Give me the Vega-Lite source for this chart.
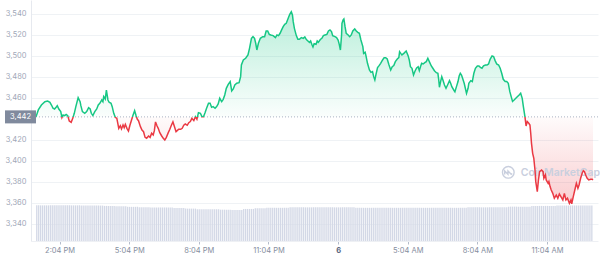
{
 "$schema": "https://vega.github.io/schema/vega-lite/v6.json",
 "width": 567,
 "height": 241,
 "autosize": {"type": "none"},
 "padding": {"left": 31, "top": 0, "right": 2, "bottom": 17},
 "config": {"view": {"stroke": null}, "font": "Inter"},
 "datasets": {
  "open": [{"ref": 3442}],
  "volume": [
{"t":"2022-04-05T13:05","v":17.0},{"t":"2022-04-05T13:10","v":17.0},{"t":"2022-04-05T13:15","v":17.0},{"t":"2022-04-05T13:20","v":17.0},{"t":"2022-04-05T13:25","v":17.0},{"t":"2022-04-05T13:30","v":17.0},{"t":"2022-04-05T13:35","v":17.0},{"t":"2022-04-05T13:40","v":17.0},{"t":"2022-04-05T13:45","v":17.0},{"t":"2022-04-05T13:50","v":17.0},{"t":"2022-04-05T13:55","v":17.0},
{"t":"2022-04-05T14:00","v":17.0},{"t":"2022-04-05T14:05","v":17.0},{"t":"2022-04-05T14:10","v":17.0},{"t":"2022-04-05T14:15","v":17.0},{"t":"2022-04-05T14:20","v":17.0},{"t":"2022-04-05T14:25","v":17.0},{"t":"2022-04-05T14:30","v":17.0},{"t":"2022-04-05T14:35","v":17.0},{"t":"2022-04-05T14:40","v":17.0},{"t":"2022-04-05T14:45","v":17.0},{"t":"2022-04-05T14:50","v":17.0},{"t":"2022-04-05T14:55","v":17.0},
{"t":"2022-04-05T15:00","v":16.9},{"t":"2022-04-05T15:05","v":16.9},{"t":"2022-04-05T15:10","v":16.9},{"t":"2022-04-05T15:15","v":16.9},{"t":"2022-04-05T15:20","v":16.9},{"t":"2022-04-05T15:25","v":16.9},{"t":"2022-04-05T15:30","v":16.9},{"t":"2022-04-05T15:35","v":16.9},{"t":"2022-04-05T15:40","v":16.9},{"t":"2022-04-05T15:45","v":16.9},{"t":"2022-04-05T15:50","v":16.9},{"t":"2022-04-05T15:55","v":16.9},
{"t":"2022-04-05T16:00","v":16.75},{"t":"2022-04-05T16:05","v":16.75},{"t":"2022-04-05T16:10","v":16.75},{"t":"2022-04-05T16:15","v":16.75},{"t":"2022-04-05T16:20","v":16.75},{"t":"2022-04-05T16:25","v":16.75},{"t":"2022-04-05T16:30","v":16.55},{"t":"2022-04-05T16:35","v":16.55},{"t":"2022-04-05T16:40","v":16.55},{"t":"2022-04-05T16:45","v":16.55},{"t":"2022-04-05T16:50","v":16.55},{"t":"2022-04-05T16:55","v":16.55},
{"t":"2022-04-05T17:00","v":16.3},{"t":"2022-04-05T17:05","v":16.3},{"t":"2022-04-05T17:10","v":16.3},{"t":"2022-04-05T17:15","v":16.3},{"t":"2022-04-05T17:20","v":16.3},{"t":"2022-04-05T17:25","v":16.3},{"t":"2022-04-05T17:30","v":16.15},{"t":"2022-04-05T17:35","v":16.15},{"t":"2022-04-05T17:40","v":16.15},{"t":"2022-04-05T17:45","v":16.15},{"t":"2022-04-05T17:50","v":16.15},{"t":"2022-04-05T17:55","v":16.15},
{"t":"2022-04-05T18:00","v":16.0},{"t":"2022-04-05T18:05","v":16.0},{"t":"2022-04-05T18:10","v":16.0},{"t":"2022-04-05T18:15","v":16.0},{"t":"2022-04-05T18:20","v":16.0},{"t":"2022-04-05T18:25","v":16.0},{"t":"2022-04-05T18:30","v":16.0},{"t":"2022-04-05T18:35","v":16.0},{"t":"2022-04-05T18:40","v":16.0},{"t":"2022-04-05T18:45","v":16.0},{"t":"2022-04-05T18:50","v":16.0},{"t":"2022-04-05T18:55","v":16.0},
{"t":"2022-04-05T19:00","v":15.75},{"t":"2022-04-05T19:05","v":15.75},{"t":"2022-04-05T19:10","v":15.75},{"t":"2022-04-05T19:15","v":15.75},{"t":"2022-04-05T19:20","v":15.75},{"t":"2022-04-05T19:25","v":15.75},{"t":"2022-04-05T19:30","v":15.45},{"t":"2022-04-05T19:35","v":15.45},{"t":"2022-04-05T19:40","v":15.45},{"t":"2022-04-05T19:45","v":15.45},{"t":"2022-04-05T19:50","v":15.45},{"t":"2022-04-05T19:55","v":15.45},
{"t":"2022-04-05T20:00","v":15.15},{"t":"2022-04-05T20:05","v":15.15},{"t":"2022-04-05T20:10","v":15.15},{"t":"2022-04-05T20:15","v":15.15},{"t":"2022-04-05T20:20","v":15.15},{"t":"2022-04-05T20:25","v":15.15},{"t":"2022-04-05T20:30","v":15.15},{"t":"2022-04-05T20:35","v":15.15},{"t":"2022-04-05T20:40","v":15.15},{"t":"2022-04-05T20:45","v":15.15},{"t":"2022-04-05T20:50","v":15.15},{"t":"2022-04-05T20:55","v":15.15},
{"t":"2022-04-05T21:00","v":14.95},{"t":"2022-04-05T21:05","v":14.95},{"t":"2022-04-05T21:10","v":14.95},{"t":"2022-04-05T21:15","v":14.95},{"t":"2022-04-05T21:20","v":14.95},{"t":"2022-04-05T21:25","v":14.95},{"t":"2022-04-05T21:30","v":14.85},{"t":"2022-04-05T21:35","v":14.85},{"t":"2022-04-05T21:40","v":14.85},{"t":"2022-04-05T21:45","v":14.85},{"t":"2022-04-05T21:50","v":14.85},{"t":"2022-04-05T21:55","v":14.85},
{"t":"2022-04-05T22:00","v":15.3},{"t":"2022-04-05T22:05","v":15.3},{"t":"2022-04-05T22:10","v":15.3},{"t":"2022-04-05T22:15","v":15.3},{"t":"2022-04-05T22:20","v":15.3},{"t":"2022-04-05T22:25","v":15.3},{"t":"2022-04-05T22:30","v":15.65},{"t":"2022-04-05T22:35","v":15.65},{"t":"2022-04-05T22:40","v":15.65},{"t":"2022-04-05T22:45","v":15.65},{"t":"2022-04-05T22:50","v":15.65},{"t":"2022-04-05T22:55","v":15.65},
{"t":"2022-04-05T23:00","v":15.85},{"t":"2022-04-05T23:05","v":15.85},{"t":"2022-04-05T23:10","v":15.85},{"t":"2022-04-05T23:15","v":15.85},{"t":"2022-04-05T23:20","v":15.85},{"t":"2022-04-05T23:25","v":15.85},{"t":"2022-04-05T23:30","v":15.85},{"t":"2022-04-05T23:35","v":15.85},{"t":"2022-04-05T23:40","v":15.85},{"t":"2022-04-05T23:45","v":15.85},{"t":"2022-04-05T23:50","v":15.85},{"t":"2022-04-05T23:55","v":15.85},
{"t":"2022-04-06T00:00","v":16.05},{"t":"2022-04-06T00:05","v":16.05},{"t":"2022-04-06T00:10","v":16.05},{"t":"2022-04-06T00:15","v":16.05},{"t":"2022-04-06T00:20","v":16.05},{"t":"2022-04-06T00:25","v":16.05},{"t":"2022-04-06T00:30","v":16.05},{"t":"2022-04-06T00:35","v":16.05},{"t":"2022-04-06T00:40","v":16.05},{"t":"2022-04-06T00:45","v":16.05},{"t":"2022-04-06T00:50","v":16.05},{"t":"2022-04-06T00:55","v":16.05},
{"t":"2022-04-06T01:00","v":16.05},{"t":"2022-04-06T01:05","v":16.05},{"t":"2022-04-06T01:10","v":16.05},{"t":"2022-04-06T01:15","v":16.05},{"t":"2022-04-06T01:20","v":16.05},{"t":"2022-04-06T01:25","v":16.05},{"t":"2022-04-06T01:30","v":16.05},{"t":"2022-04-06T01:35","v":16.05},{"t":"2022-04-06T01:40","v":16.05},{"t":"2022-04-06T01:45","v":16.05},{"t":"2022-04-06T01:50","v":16.05},{"t":"2022-04-06T01:55","v":16.05},
{"t":"2022-04-06T02:00","v":16.05},{"t":"2022-04-06T02:05","v":16.05},{"t":"2022-04-06T02:10","v":16.05},{"t":"2022-04-06T02:15","v":16.05},{"t":"2022-04-06T02:20","v":16.05},{"t":"2022-04-06T02:25","v":16.05},{"t":"2022-04-06T02:30","v":16.05},{"t":"2022-04-06T02:35","v":16.05},{"t":"2022-04-06T02:40","v":16.05},{"t":"2022-04-06T02:45","v":16.05},{"t":"2022-04-06T02:50","v":15.85},{"t":"2022-04-06T02:55","v":15.85},
{"t":"2022-04-06T03:00","v":15.85},{"t":"2022-04-06T03:05","v":15.85},{"t":"2022-04-06T03:10","v":15.85},{"t":"2022-04-06T03:15","v":15.85},{"t":"2022-04-06T03:20","v":15.85},{"t":"2022-04-06T03:25","v":15.85},{"t":"2022-04-06T03:30","v":15.85},{"t":"2022-04-06T03:35","v":15.85},{"t":"2022-04-06T03:40","v":15.85},{"t":"2022-04-06T03:45","v":15.85},{"t":"2022-04-06T03:50","v":15.85},{"t":"2022-04-06T03:55","v":15.85},
{"t":"2022-04-06T04:00","v":15.85},{"t":"2022-04-06T04:05","v":15.85},{"t":"2022-04-06T04:10","v":15.85},{"t":"2022-04-06T04:15","v":15.85},{"t":"2022-04-06T04:20","v":15.85},{"t":"2022-04-06T04:25","v":15.85},{"t":"2022-04-06T04:30","v":15.85},{"t":"2022-04-06T04:35","v":15.85},{"t":"2022-04-06T04:40","v":15.85},{"t":"2022-04-06T04:45","v":15.85},{"t":"2022-04-06T04:50","v":15.85},{"t":"2022-04-06T04:55","v":15.85},
{"t":"2022-04-06T05:00","v":15.85},{"t":"2022-04-06T05:05","v":15.85},{"t":"2022-04-06T05:10","v":15.85},{"t":"2022-04-06T05:15","v":15.85},{"t":"2022-04-06T05:20","v":15.85},{"t":"2022-04-06T05:25","v":15.85},{"t":"2022-04-06T05:30","v":15.85},{"t":"2022-04-06T05:35","v":15.85},{"t":"2022-04-06T05:40","v":15.85},{"t":"2022-04-06T05:45","v":15.85},{"t":"2022-04-06T05:50","v":15.85},{"t":"2022-04-06T05:55","v":15.85},
{"t":"2022-04-06T06:00","v":15.85},{"t":"2022-04-06T06:05","v":15.85},{"t":"2022-04-06T06:10","v":15.85},{"t":"2022-04-06T06:15","v":15.85},{"t":"2022-04-06T06:20","v":15.85},{"t":"2022-04-06T06:25","v":15.85},{"t":"2022-04-06T06:30","v":15.85},{"t":"2022-04-06T06:35","v":15.85},{"t":"2022-04-06T06:40","v":15.85},{"t":"2022-04-06T06:45","v":15.85},{"t":"2022-04-06T06:50","v":15.85},{"t":"2022-04-06T06:55","v":15.85},
{"t":"2022-04-06T07:00","v":15.85},{"t":"2022-04-06T07:05","v":15.85},{"t":"2022-04-06T07:10","v":15.85},{"t":"2022-04-06T07:15","v":15.85},{"t":"2022-04-06T07:20","v":15.85},{"t":"2022-04-06T07:25","v":15.85},{"t":"2022-04-06T07:30","v":15.85},{"t":"2022-04-06T07:35","v":15.85},{"t":"2022-04-06T07:40","v":16.05},{"t":"2022-04-06T07:45","v":16.05},{"t":"2022-04-06T07:50","v":16.05},{"t":"2022-04-06T07:55","v":16.05},
{"t":"2022-04-06T08:00","v":16.05},{"t":"2022-04-06T08:05","v":16.05},{"t":"2022-04-06T08:10","v":16.05},{"t":"2022-04-06T08:15","v":16.05},{"t":"2022-04-06T08:20","v":16.05},{"t":"2022-04-06T08:25","v":16.05},{"t":"2022-04-06T08:30","v":16.05},{"t":"2022-04-06T08:35","v":16.05},{"t":"2022-04-06T08:40","v":16.05},{"t":"2022-04-06T08:45","v":16.05},{"t":"2022-04-06T08:50","v":16.05},{"t":"2022-04-06T08:55","v":16.05},
{"t":"2022-04-06T09:00","v":16.05},{"t":"2022-04-06T09:05","v":16.05},{"t":"2022-04-06T09:10","v":16.05},{"t":"2022-04-06T09:15","v":16.05},{"t":"2022-04-06T09:20","v":16.05},{"t":"2022-04-06T09:25","v":16.4},{"t":"2022-04-06T09:30","v":16.4},{"t":"2022-04-06T09:35","v":16.4},{"t":"2022-04-06T09:40","v":16.4},{"t":"2022-04-06T09:45","v":16.4},{"t":"2022-04-06T09:50","v":16.4},{"t":"2022-04-06T09:55","v":16.4},
{"t":"2022-04-06T10:00","v":16.4},{"t":"2022-04-06T10:05","v":16.4},{"t":"2022-04-06T10:10","v":16.4},{"t":"2022-04-06T10:15","v":16.4},{"t":"2022-04-06T10:20","v":16.4},{"t":"2022-04-06T10:25","v":16.75},{"t":"2022-04-06T10:30","v":16.75},{"t":"2022-04-06T10:35","v":16.75},{"t":"2022-04-06T10:40","v":16.75},{"t":"2022-04-06T10:45","v":16.75},{"t":"2022-04-06T10:50","v":16.75},{"t":"2022-04-06T10:55","v":16.75},
{"t":"2022-04-06T11:00","v":16.75},{"t":"2022-04-06T11:05","v":16.75},{"t":"2022-04-06T11:10","v":16.75},{"t":"2022-04-06T11:15","v":16.75},{"t":"2022-04-06T11:20","v":16.75},{"t":"2022-04-06T11:25","v":16.75},{"t":"2022-04-06T11:30","v":16.95},{"t":"2022-04-06T11:35","v":16.95},{"t":"2022-04-06T11:40","v":16.95},{"t":"2022-04-06T11:45","v":16.95},{"t":"2022-04-06T11:50","v":16.95},{"t":"2022-04-06T11:55","v":16.95},
{"t":"2022-04-06T12:00","v":16.95},{"t":"2022-04-06T12:05","v":16.95},{"t":"2022-04-06T12:10","v":16.95},{"t":"2022-04-06T12:15","v":16.95},{"t":"2022-04-06T12:20","v":16.95},{"t":"2022-04-06T12:25","v":16.95},{"t":"2022-04-06T12:30","v":16.95},{"t":"2022-04-06T12:35","v":16.95},{"t":"2022-04-06T12:40","v":16.95},{"t":"2022-04-06T12:45","v":16.95},{"t":"2022-04-06T12:50","v":16.95},{"t":"2022-04-06T12:55","v":16.95},
{"t":"2022-04-06T13:00","v":16.95}
  ],
  "price": [
{"t":"2022-04-05T13:03","p":3442.0},{"t":"2022-04-05T13:09","p":3448.6},{"t":"2022-04-05T13:17","p":3453.3},{"t":"2022-04-05T13:26","p":3456.5},{"t":"2022-04-05T13:33","p":3457.1},{"t":"2022-04-05T13:39","p":3455.9},{"t":"2022-04-05T13:43","p":3453.3},{"t":"2022-04-05T13:47","p":3450.2},{"t":"2022-04-05T13:51","p":3449.5},{"t":"2022-04-05T13:56","p":3451.7},{"t":"2022-04-05T13:58","p":3452.7},
{"t":"2022-04-05T14:02","p":3449.5},{"t":"2022-04-05T14:07","p":3447.0},{"t":"2022-04-05T14:10","p":3441.3},{"t":"2022-04-05T14:13","p":3443.8},{"t":"2022-04-05T14:17","p":3443.2},{"t":"2022-04-05T14:21","p":3444.4},{"t":"2022-04-05T14:25","p":3443.2},{"t":"2022-04-05T14:29","p":3438.1},{"t":"2022-04-05T14:34","p":3436.8},{"t":"2022-04-05T14:38","p":3440.6},{"t":"2022-04-05T14:42","p":3445.4},{"t":"2022-04-05T14:46","p":3451.7},{"t":"2022-04-05T14:52","p":3460.3},{"t":"2022-04-05T14:57","p":3456.5},{"t":"2022-04-05T14:59","p":3452.7},
{"t":"2022-04-05T15:03","p":3447.0},{"t":"2022-04-05T15:09","p":3445.4},{"t":"2022-04-05T15:14","p":3447.0},{"t":"2022-04-05T15:19","p":3450.8},{"t":"2022-04-05T15:23","p":3449.5},{"t":"2022-04-05T15:26","p":3445.4},{"t":"2022-04-05T15:30","p":3443.2},{"t":"2022-04-05T15:35","p":3447.0},{"t":"2022-04-05T15:40","p":3449.5},{"t":"2022-04-05T15:44","p":3453.3},{"t":"2022-04-05T15:48","p":3454.9},{"t":"2022-04-05T15:53","p":3458.1},{"t":"2022-04-05T15:56","p":3456.5},{"t":"2022-04-05T15:58","p":3461.3},
{"t":"2022-04-05T16:02","p":3459.0},{"t":"2022-04-05T16:05","p":3467.6},{"t":"2022-04-05T16:09","p":3458.1},{"t":"2022-04-05T16:12","p":3455.9},{"t":"2022-04-05T16:17","p":3454.9},{"t":"2022-04-05T16:20","p":3451.7},{"t":"2022-04-05T16:24","p":3445.4},{"t":"2022-04-05T16:28","p":3441.6},{"t":"2022-04-05T16:32","p":3440.6},{"t":"2022-04-05T16:37","p":3431.1},{"t":"2022-04-05T16:41","p":3433.6},{"t":"2022-04-05T16:44","p":3430.5},{"t":"2022-04-05T16:48","p":3434.3},{"t":"2022-04-05T16:51","p":3431.7},{"t":"2022-04-05T16:54","p":3434.9},{"t":"2022-04-05T16:58","p":3431.1},
{"t":"2022-04-05T17:02","p":3428.6},{"t":"2022-04-05T17:06","p":3434.3},{"t":"2022-04-05T17:10","p":3439.0},{"t":"2022-04-05T17:14","p":3443.8},{"t":"2022-04-05T17:18","p":3447.9},{"t":"2022-04-05T17:22","p":3442.9},{"t":"2022-04-05T17:25","p":3439.7},{"t":"2022-04-05T17:28","p":3438.4},{"t":"2022-04-05T17:33","p":3432.7},{"t":"2022-04-05T17:37","p":3429.5},{"t":"2022-04-05T17:41","p":3427.9},{"t":"2022-04-05T17:45","p":3422.5},{"t":"2022-04-05T17:49","p":3421.6},{"t":"2022-04-05T17:54","p":3423.8},{"t":"2022-04-05T17:58","p":3422.5},
{"t":"2022-04-05T18:02","p":3426.4},{"t":"2022-04-05T18:06","p":3424.8},{"t":"2022-04-05T18:09","p":3428.9},{"t":"2022-04-05T18:12","p":3437.2},{"t":"2022-04-05T18:16","p":3433.3},{"t":"2022-04-05T18:19","p":3431.1},{"t":"2022-04-05T18:23","p":3427.0},{"t":"2022-04-05T18:28","p":3423.8},{"t":"2022-04-05T18:32","p":3421.6},{"t":"2022-04-05T18:36","p":3420.0},{"t":"2022-04-05T18:40","p":3422.5},{"t":"2022-04-05T18:45","p":3427.0},{"t":"2022-04-05T18:49","p":3430.2},{"t":"2022-04-05T18:53","p":3434.0},{"t":"2022-04-05T18:57","p":3437.2},
{"t":"2022-04-05T19:01","p":3432.7},{"t":"2022-04-05T19:05","p":3427.9},{"t":"2022-04-05T19:08","p":3428.9},{"t":"2022-04-05T19:12","p":3430.2},{"t":"2022-04-05T19:17","p":3430.2},{"t":"2022-04-05T19:21","p":3431.1},{"t":"2022-04-05T19:25","p":3434.0},{"t":"2022-04-05T19:29","p":3435.2},{"t":"2022-04-05T19:34","p":3434.0},{"t":"2022-04-05T19:38","p":3436.5},{"t":"2022-04-05T19:42","p":3437.5},{"t":"2022-04-05T19:46","p":3440.6},{"t":"2022-04-05T19:51","p":3438.4},{"t":"2022-04-05T19:55","p":3442.2},{"t":"2022-04-05T19:59","p":3439.7},
{"t":"2022-04-05T20:03","p":3446.0},{"t":"2022-04-05T20:08","p":3445.4},{"t":"2022-04-05T20:12","p":3442.2},{"t":"2022-04-05T20:16","p":3442.2},{"t":"2022-04-05T20:20","p":3446.0},{"t":"2022-04-05T20:24","p":3450.2},{"t":"2022-04-05T20:29","p":3454.9},{"t":"2022-04-05T20:33","p":3454.9},{"t":"2022-04-05T20:37","p":3451.1},{"t":"2022-04-05T20:41","p":3451.8},{"t":"2022-04-05T20:46","p":3450.2},{"t":"2022-04-05T20:50","p":3451.8},{"t":"2022-04-05T20:54","p":3454.3},{"t":"2022-04-05T20:58","p":3459.7},
{"t":"2022-04-05T21:03","p":3456.5},{"t":"2022-04-05T21:07","p":3458.7},{"t":"2022-04-05T21:11","p":3462.9},{"t":"2022-04-05T21:15","p":3469.2},{"t":"2022-04-05T21:20","p":3473.0},{"t":"2022-04-05T21:25","p":3475.6},{"t":"2022-04-05T21:29","p":3466.7},{"t":"2022-04-05T21:33","p":3468.6},{"t":"2022-04-05T21:37","p":3472.4},{"t":"2022-04-05T21:42","p":3474.0},{"t":"2022-04-05T21:48","p":3474.6},{"t":"2022-04-05T21:52","p":3480.3},{"t":"2022-04-05T21:54","p":3491.4},{"t":"2022-04-05T21:59","p":3496.2},
{"t":"2022-04-05T22:05","p":3497.8},{"t":"2022-04-05T22:11","p":3501.0},{"t":"2022-04-05T22:15","p":3507.3},{"t":"2022-04-05T22:20","p":3516.8},{"t":"2022-04-05T22:24","p":3518.4},{"t":"2022-04-05T22:28","p":3516.8},{"t":"2022-04-05T22:31","p":3512.1},{"t":"2022-04-05T22:34","p":3505.7},{"t":"2022-04-05T22:38","p":3512.1},{"t":"2022-04-05T22:43","p":3516.8},{"t":"2022-04-05T22:49","p":3518.4},{"t":"2022-04-05T22:54","p":3518.4},{"t":"2022-04-05T22:58","p":3523.8},
{"t":"2022-04-05T23:02","p":3523.8},{"t":"2022-04-05T23:06","p":3520.6},{"t":"2022-04-05T23:10","p":3520.0},{"t":"2022-04-05T23:16","p":3519.4},{"t":"2022-04-05T23:22","p":3517.5},{"t":"2022-04-05T23:26","p":3520.0},{"t":"2022-04-05T23:30","p":3519.4},{"t":"2022-04-05T23:34","p":3521.6},{"t":"2022-04-05T23:38","p":3524.8},{"t":"2022-04-05T23:42","p":3528.0},{"t":"2022-04-05T23:46","p":3530.2},{"t":"2022-04-05T23:50","p":3531.1},{"t":"2022-04-05T23:55","p":3535.9},{"t":"2022-04-05T23:59","p":3539.7},
{"t":"2022-04-06T00:03","p":3542.2},{"t":"2022-04-06T00:06","p":3539.0},{"t":"2022-04-06T00:08","p":3532.7},{"t":"2022-04-06T00:11","p":3526.3},{"t":"2022-04-06T00:16","p":3519.4},{"t":"2022-04-06T00:20","p":3515.9},{"t":"2022-04-06T00:24","p":3515.9},{"t":"2022-04-06T00:29","p":3517.5},{"t":"2022-04-06T00:34","p":3516.8},{"t":"2022-04-06T00:38","p":3518.1},{"t":"2022-04-06T00:42","p":3515.6},{"t":"2022-04-06T00:46","p":3514.3},{"t":"2022-04-06T00:50","p":3513.0},{"t":"2022-04-06T00:53","p":3514.3},{"t":"2022-04-06T00:56","p":3511.1},{"t":"2022-04-06T00:59","p":3508.6},
{"t":"2022-04-06T01:02","p":3511.7},{"t":"2022-04-06T01:07","p":3511.1},{"t":"2022-04-06T01:10","p":3514.3},{"t":"2022-04-06T01:13","p":3513.0},{"t":"2022-04-06T01:18","p":3515.7},{"t":"2022-04-06T01:22","p":3516.8},{"t":"2022-04-06T01:26","p":3519.4},{"t":"2022-04-06T01:30","p":3520.0},{"t":"2022-04-06T01:35","p":3520.6},{"t":"2022-04-06T01:39","p":3523.8},{"t":"2022-04-06T01:43","p":3524.8},{"t":"2022-04-06T01:47","p":3523.2},{"t":"2022-04-06T01:50","p":3519.4},{"t":"2022-04-06T01:56","p":3518.4},
{"t":"2022-04-06T02:00","p":3517.5},{"t":"2022-04-06T02:04","p":3515.2},{"t":"2022-04-06T02:07","p":3511.1},{"t":"2022-04-06T02:10","p":3505.7},{"t":"2022-04-06T02:13","p":3520.0},{"t":"2022-04-06T02:14","p":3531.1},{"t":"2022-04-06T02:17","p":3534.3},{"t":"2022-04-06T02:19","p":3535.2},{"t":"2022-04-06T02:22","p":3527.9},{"t":"2022-04-06T02:25","p":3521.6},{"t":"2022-04-06T02:30","p":3520.0},{"t":"2022-04-06T02:34","p":3518.4},{"t":"2022-04-06T02:38","p":3520.0},{"t":"2022-04-06T02:42","p":3523.8},{"t":"2022-04-06T02:47","p":3525.7},{"t":"2022-04-06T02:51","p":3523.8},{"t":"2022-04-06T02:55","p":3522.5},{"t":"2022-04-06T02:59","p":3521.6},
{"t":"2022-04-06T03:03","p":3515.2},{"t":"2022-04-06T03:08","p":3508.9},{"t":"2022-04-06T03:10","p":3502.5},{"t":"2022-04-06T03:14","p":3503.5},{"t":"2022-04-06T03:16","p":3500.3},{"t":"2022-04-06T03:20","p":3493.0},{"t":"2022-04-06T03:25","p":3486.7},{"t":"2022-04-06T03:29","p":3484.4},{"t":"2022-04-06T03:33","p":3485.1},{"t":"2022-04-06T03:36","p":3480.3},{"t":"2022-04-06T03:39","p":3477.1},{"t":"2022-04-06T03:42","p":3482.5},{"t":"2022-04-06T03:46","p":3488.9},{"t":"2022-04-06T03:50","p":3490.8},{"t":"2022-04-06T03:54","p":3493.0},{"t":"2022-04-06T03:59","p":3496.2},
{"t":"2022-04-06T04:03","p":3498.4},{"t":"2022-04-06T04:07","p":3498.4},{"t":"2022-04-06T04:11","p":3497.1},{"t":"2022-04-06T04:15","p":3492.1},{"t":"2022-04-06T04:20","p":3486.7},{"t":"2022-04-06T04:24","p":3489.8},{"t":"2022-04-06T04:28","p":3490.8},{"t":"2022-04-06T04:32","p":3494.6},{"t":"2022-04-06T04:37","p":3497.1},{"t":"2022-04-06T04:41","p":3498.4},{"t":"2022-04-06T04:43","p":3504.1},{"t":"2022-04-06T04:46","p":3502.5},{"t":"2022-04-06T04:49","p":3501.0},{"t":"2022-04-06T04:54","p":3502.5},{"t":"2022-04-06T04:58","p":3504.1},
{"t":"2022-04-06T05:00","p":3504.8},{"t":"2022-04-06T05:05","p":3500.3},{"t":"2022-04-06T05:08","p":3496.2},{"t":"2022-04-06T05:11","p":3489.8},{"t":"2022-04-06T05:15","p":3488.3},{"t":"2022-04-06T05:19","p":3481.9},{"t":"2022-04-06T05:23","p":3485.7},{"t":"2022-04-06T05:27","p":3488.6},{"t":"2022-04-06T05:31","p":3489.8},{"t":"2022-04-06T05:34","p":3486.0},{"t":"2022-04-06T05:37","p":3489.8},{"t":"2022-04-06T05:40","p":3493.0},{"t":"2022-04-06T05:44","p":3492.4},{"t":"2022-04-06T05:48","p":3493.7},{"t":"2022-04-06T05:52","p":3494.6},{"t":"2022-04-06T05:56","p":3497.8},
{"t":"2022-04-06T06:01","p":3493.7},{"t":"2022-04-06T06:05","p":3490.5},{"t":"2022-04-06T06:09","p":3488.3},{"t":"2022-04-06T06:13","p":3486.0},{"t":"2022-04-06T06:18","p":3484.1},{"t":"2022-04-06T06:22","p":3483.5},{"t":"2022-04-06T06:24","p":3477.8},{"t":"2022-04-06T06:26","p":3470.2},{"t":"2022-04-06T06:29","p":3475.6},{"t":"2022-04-06T06:32","p":3480.3},{"t":"2022-04-06T06:35","p":3477.1},{"t":"2022-04-06T06:39","p":3472.4},{"t":"2022-04-06T06:43","p":3469.2},{"t":"2022-04-06T06:47","p":3472.4},{"t":"2022-04-06T06:52","p":3476.5},{"t":"2022-04-06T06:55","p":3474.0},{"t":"2022-04-06T06:58","p":3470.8},
{"t":"2022-04-06T07:03","p":3467.6},{"t":"2022-04-06T07:06","p":3466.0},{"t":"2022-04-06T07:10","p":3470.8},{"t":"2022-04-06T07:14","p":3475.6},{"t":"2022-04-06T07:17","p":3480.9},{"t":"2022-04-06T07:20","p":3483.5},{"t":"2022-04-06T07:23","p":3481.9},{"t":"2022-04-06T07:25","p":3479.7},{"t":"2022-04-06T07:30","p":3474.0},{"t":"2022-04-06T07:34","p":3467.6},{"t":"2022-04-06T07:36","p":3464.4},{"t":"2022-04-06T07:40","p":3469.2},{"t":"2022-04-06T07:42","p":3474.0},{"t":"2022-04-06T07:47","p":3476.5},{"t":"2022-04-06T07:51","p":3475.6},{"t":"2022-04-06T07:55","p":3483.5},{"t":"2022-04-06T07:59","p":3488.3},
{"t":"2022-04-06T08:04","p":3490.5},{"t":"2022-04-06T08:08","p":3490.5},{"t":"2022-04-06T08:12","p":3489.2},{"t":"2022-04-06T08:16","p":3488.3},{"t":"2022-04-06T08:20","p":3490.5},{"t":"2022-04-06T08:25","p":3491.4},{"t":"2022-04-06T08:29","p":3491.4},{"t":"2022-04-06T08:33","p":3492.4},{"t":"2022-04-06T08:37","p":3496.8},{"t":"2022-04-06T08:42","p":3500.0},{"t":"2022-04-06T08:46","p":3499.4},{"t":"2022-04-06T08:50","p":3495.6},{"t":"2022-04-06T08:54","p":3492.4},{"t":"2022-04-06T08:59","p":3491.4},
{"t":"2022-04-06T09:03","p":3488.3},{"t":"2022-04-06T09:07","p":3483.5},{"t":"2022-04-06T09:11","p":3477.8},{"t":"2022-04-06T09:16","p":3475.6},{"t":"2022-04-06T09:20","p":3475.6},{"t":"2022-04-06T09:24","p":3474.0},{"t":"2022-04-06T09:28","p":3466.0},{"t":"2022-04-06T09:32","p":3460.6},{"t":"2022-04-06T09:35","p":3456.8},{"t":"2022-04-06T09:39","p":3458.1},{"t":"2022-04-06T09:46","p":3460.7},{"t":"2022-04-06T09:52","p":3462.9},{"t":"2022-04-06T09:56","p":3464.5},
{"t":"2022-04-06T10:00","p":3459.7},{"t":"2022-04-06T10:03","p":3451.7},{"t":"2022-04-06T10:07","p":3442.2},{"t":"2022-04-06T10:10","p":3433.3},{"t":"2022-04-06T10:13","p":3437.5},{"t":"2022-04-06T10:17","p":3435.9},{"t":"2022-04-06T10:20","p":3434.3},{"t":"2022-04-06T10:22","p":3426.4},{"t":"2022-04-06T10:24","p":3416.8},{"t":"2022-04-06T10:27","p":3407.3},{"t":"2022-04-06T10:30","p":3402.5},{"t":"2022-04-06T10:33","p":3391.4},{"t":"2022-04-06T10:35","p":3380.3},{"t":"2022-04-06T10:39","p":3370.8},{"t":"2022-04-06T10:42","p":3381.9},{"t":"2022-04-06T10:45","p":3389.8},{"t":"2022-04-06T10:50","p":3391.4},{"t":"2022-04-06T10:54","p":3389.8},{"t":"2022-04-06T10:56","p":3383.5},
{"t":"2022-04-06T11:00","p":3386.7},{"t":"2022-04-06T11:02","p":3381.9},{"t":"2022-04-06T11:07","p":3378.7},{"t":"2022-04-06T11:09","p":3380.3},{"t":"2022-04-06T11:12","p":3375.6},{"t":"2022-04-06T11:15","p":3372.4},{"t":"2022-04-06T11:19","p":3369.2},{"t":"2022-04-06T11:23","p":3364.5},{"t":"2022-04-06T11:28","p":3367.6},{"t":"2022-04-06T11:32","p":3364.5},{"t":"2022-04-06T11:36","p":3368.6},{"t":"2022-04-06T11:40","p":3366.0},{"t":"2022-04-06T11:45","p":3362.9},{"t":"2022-04-06T11:49","p":3369.2},{"t":"2022-04-06T11:53","p":3362.9},{"t":"2022-04-06T11:57","p":3364.5},
{"t":"2022-04-06T12:02","p":3359.7},{"t":"2022-04-06T12:06","p":3362.9},{"t":"2022-04-06T12:08","p":3359.1},{"t":"2022-04-06T12:12","p":3366.0},{"t":"2022-04-06T12:16","p":3372.4},{"t":"2022-04-06T12:20","p":3378.7},{"t":"2022-04-06T12:24","p":3374.0},{"t":"2022-04-06T12:27","p":3377.1},{"t":"2022-04-06T12:31","p":3383.5},{"t":"2022-04-06T12:35","p":3388.3},{"t":"2022-04-06T12:38","p":3390.8},{"t":"2022-04-06T12:41","p":3389.8},{"t":"2022-04-06T12:44","p":3386.7},{"t":"2022-04-06T12:48","p":3383.5},{"t":"2022-04-06T12:52","p":3381.9},{"t":"2022-04-06T12:57","p":3382.5},
{"t":"2022-04-06T13:01","p":3382.5},{"t":"2022-04-06T13:03","p":3381.9}
  ]
 },
 "layer": [
  {
   "data": {"name": "volume"},
   "mark": {"type": "bar", "width": 1.3, "color": "#d3d8e6"},
   "encoding": {
    "x": {
     "field": "t", "type": "temporal",
     "scale": {"domain": [{"year": 2022, "month": 4, "date": 5, "hours": 13, "minutes": 3}, {"year": 2022, "month": 4, "date": 6, "hours": 13, "minutes": 3}]},
     "axis": {
      "title": null,
      "tickCount": 30,
      "values": [
       {"year": 2022, "month": 4, "date": 5, "hours": 14, "minutes": 4},
       {"year": 2022, "month": 4, "date": 5, "hours": 17, "minutes": 4},
       {"year": 2022, "month": 4, "date": 5, "hours": 20, "minutes": 4},
       {"year": 2022, "month": 4, "date": 5, "hours": 23, "minutes": 4},
       {"year": 2022, "month": 4, "date": 6, "hours": 2, "minutes": 4},
       {"year": 2022, "month": 4, "date": 6, "hours": 5, "minutes": 4},
       {"year": 2022, "month": 4, "date": 6, "hours": 8, "minutes": 4},
       {"year": 2022, "month": 4, "date": 6, "hours": 11, "minutes": 4}
      ],
      "labelExpr": "hours(datum.value) == 2 ? timeFormat(datum.value, '%-d') : timeFormat(datum.value, '%-I:%M %p')",
      "labelFontWeight": {"condition": {"test": "hours(datum.value) == 2", "value": "bold"}, "value": "normal"},
      "labelColor": {"condition": {"test": "hours(datum.value) == 2", "value": "#58667e"}, "value": "#858ea0"},
      "labelFont": "Inter",
      "labelFontSize": 7.5,
      "labelPadding": 2,
      "labelOverlap": false,
      "labelFlush": false,
      "grid": false,
      "domain": true,
      "domainColor": "#eef0f4",
      "ticks": true,
      "tickSize": 3,
      "tickColor": "#b4bccb"
     }
    },
    "y": {"field": "v", "type": "quantitative", "scale": {"domain": [0, 115]}, "axis": null}
   }
  },
  {
   "data": {"name": "price"},
   "layer": [
    {
     "mark": {
      "type": "area",
      "color": {
       "gradient": "linear", "x1": 0, "y1": 0, "x2": 0, "y2": 1,
       "stops": [
        {"offset": 0, "color": "rgba(22,199,132,0.30)"},
        {"offset": 0.5472, "color": "rgba(22,199,132,0.02)"},
        {"offset": 0.5472, "color": "rgba(234,57,67,0.02)"},
        {"offset": 1, "color": "rgba(234,57,67,0.25)"}
       ]
      }
     },
     "encoding": {
      "x": {"field": "t", "type": "temporal"},
      "y": {
       "field": "p", "type": "quantitative",
       "scale": {"domain": [3323.8, 3553.3], "nice": false, "zero": false},
       "axis": {
        "orient": "left",
        "title": null,
        "tickCount": 30,
        "values": [3340, 3360, 3380, 3400, 3420, 3460, 3480, 3500, 3520, 3540],
        "format": ",.0f",
        "grid": true,
        "gridColor": "#eff2f5",
        "gridWidth": 1,
        "domain": true,
        "domainColor": "#e6e9ef",
        "ticks": false,
        "tickSize": 0,
        "labelPadding": 5,
        "labelOverlap": false,
        "labelColor": "#a1a8b8",
        "labelFont": "Inter",
        "labelFontSize": 7.5
       }
      },
      "y2": {"datum": 3442}
     }
    },
    {
     "data": {"name": "open"},
     "mark": {"type": "rule", "strokeDash": [1, 2], "color": "#aab2c2", "strokeWidth": 1},
     "encoding": {"y": {"field": "ref", "type": "quantitative"}}
    },
    {
     "data": {"name": "open"},
     "mark": {
      "type": "point",
      "shape": "M0.9,0A0.9,0.9,0,1,1,-0.9,0A0.9,0.9,0,1,1,0.9,0ZM-0.55,0.35L-0.55,-0.2L-0.05,0.3L-0.05,-0.2L0.45,0.3L0.6,0.18",
      "size": 169, "filled": false, "stroke": "#c9cfde", "strokeWidth": 1.4, "opacity": 1
     },
     "encoding": {
      "x": {"datum": {"year": 2022, "month": 4, "date": 6, "hours": 9, "minutes": 24}, "type": "temporal"},
      "y": {"datum": 3389.2}
     }
    },
    {
     "data": {"name": "open"},
     "mark": {"type": "text", "text": "CoinMarketCap", "align": "left", "baseline": "middle", "font": "Inter", "fontSize": 10.5, "fontWeight": 600, "color": "#c9cfde"},
     "encoding": {
      "x": {"datum": {"year": 2022, "month": 4, "date": 6, "hours": 9, "minutes": 56}, "type": "temporal"},
      "y": {"datum": 3389.0}
     }
    },
    {
     "mark": {
      "type": "line", "strokeWidth": 1.5,
      "stroke": {
       "gradient": "linear", "x1": 0, "y1": 0, "x2": 0, "y2": 1,
       "stops": [
        {"offset": 0, "color": "#16c784"},
        {"offset": 0.5472, "color": "#16c784"},
        {"offset": 0.5472, "color": "#ea3943"},
        {"offset": 1, "color": "#ea3943"}
       ]
      }
     },
     "encoding": {
      "x": {"field": "t", "type": "temporal"},
      "y": {"field": "p", "type": "quantitative"}
     }
    },
    {
     "data": {"name": "open"},
     "mark": {"type": "point", "shape": "M-1,-0.42L1,-0.42L1,0.42L-1,0.42Z", "size": 961, "filled": true, "color": "#808a9d", "opacity": 1, "xOffset": -15.5},
     "encoding": {
      "x": {"datum": {"year": 2022, "month": 4, "date": 5, "hours": 13, "minutes": 3}, "type": "temporal"},
      "y": {"field": "ref", "type": "quantitative"}
     }
    },
    {
     "data": {"name": "open"},
     "mark": {"type": "text", "align": "right", "baseline": "middle", "dx": -5, "font": "Inter", "fontSize": 7.5, "color": "#ffffff"},
     "encoding": {
      "x": {"datum": {"year": 2022, "month": 4, "date": 5, "hours": 13, "minutes": 3}, "type": "temporal"},
      "y": {"field": "ref", "type": "quantitative"},
      "text": {"field": "ref", "type": "quantitative", "format": ","}
     }
    }
   ]
  }
 ],
 "resolve": {"scale": {"y": "independent"}}
}
